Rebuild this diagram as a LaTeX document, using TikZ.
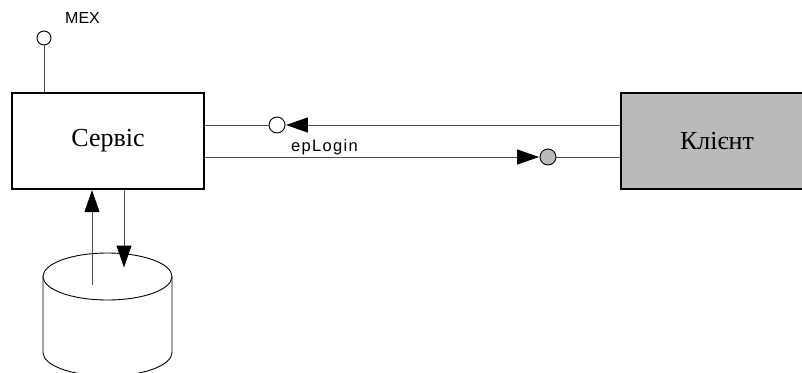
\documentclass[tikz,border=0pt]{standalone}
\usepackage{fontspec}
\setmainfont{Liberation Serif}
\newfontfamily\labelfont{Liberation Sans}
\newfontfamily\widelabelfont[LetterSpace=8]{Liberation Sans}
\usetikzlibrary{arrows.meta,calc}

\tikzset{
  unitbox/.style={draw=black, line width=1.3pt, minimum width=192pt, minimum height=96pt,
                  inner sep=0pt, font=\fontsize{26pt}{29pt}\selectfont},
  wire/.style={draw=black!70, line width=1pt},
  tipline/.style={wire, -{Triangle[length=22pt,width=15pt,color=black]}, shorten >=0.5pt},
  port/.style={circle, draw=black, line width=0.9pt, minimum size=16pt, inner sep=0pt},
  lbl/.style={inner sep=0pt}
}

\begin{document}
\begin{tikzpicture}[x=1pt,y=-1pt]
  \useasboundingbox (0,0) rectangle (802,372);
  \clip (0,0) rectangle (802,372);

  % storage cylinder
  \def\cx{107.5}\def\cy{276.5}\def\rx{64.5}\def\ry{23.5}\def\ch{76}
  \filldraw[fill=white, draw=black, line width=0.9pt]
    (\cx-\rx,\cy) -- (\cx-\rx,\cy+\ch)
    arc[start angle=180, end angle=360, x radius=\rx pt, y radius=\ry pt]
    -- (\cx+\rx,\cy);
  \draw[fill=white, line width=0.9pt] (\cx,\cy) ellipse[x radius=\rx pt, y radius=\ry pt];
  \coordinate (dbup) at (92,285);
  \coordinate (dbdown) at (124,268);

  % service and client boxes
  \node[unitbox, fill=white] (srv) at (108,141) {Сервіс};
  \node[unitbox, fill={rgb,255:red,185;green,186;blue,188}] (cli) at (717,141) {Клієнт};

  % MEX endpoint
  \node[port, minimum size=14pt, fill=white] (mex) at (44,38) {};
  \draw[wire] (mex.south) -- (mex.south |- srv.north);
  \node[lbl, anchor=west, font=\labelfont\fontsize{16pt}{19pt}\selectfont] (mexlbl) at (65,18) {MEX};

  % request channel: client -> service
  \node[port, fill=white] (pin) at (277,125) {};
  \draw[tipline] (pin -| cli.west) -- (pin.east);
  \draw[wire] (pin.west) -- (pin -| srv.east);

  % response channel: service -> client
  \node[port, fill={rgb,255:red,185;green,186;blue,188}] (pout) at (548,157) {};
  \draw[tipline] (pout -| srv.east) -- (pout.west);
  \draw[wire] (pout.east) -- (pout -| cli.west);
  \node[lbl, anchor=west, font=\widelabelfont\fontsize{16.5pt}{19pt}\selectfont] (eplbl) at (291,147) {epLogin};

  % data access between service and storage
  \draw[tipline] (dbup) -- (dbup |- srv.south);
  \draw[tipline] (dbdown |- srv.south) -- (dbdown);
\end{tikzpicture}
\end{document}
